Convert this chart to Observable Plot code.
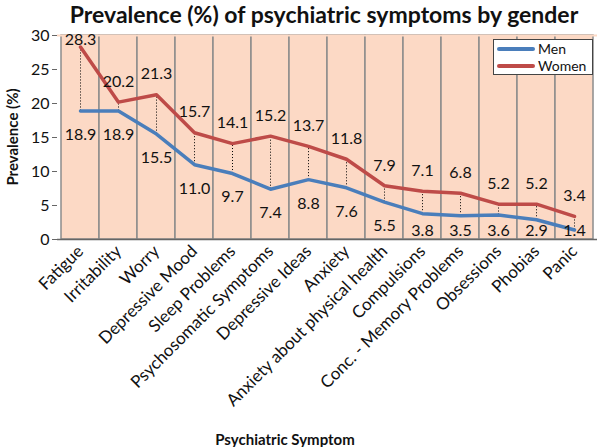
<!DOCTYPE html>
<html>
<head>
<meta charset="utf-8">
<script src="https://cdn.jsdelivr.net/npm/d3@7"></script>
<script src="https://cdn.jsdelivr.net/npm/@observablehq/plot@0.6"></script>
<style>
  html, body { margin: 0; padding: 0; background: #fff; }
  #wrap { position: relative; width: 600px; height: 447px; font-family: Lato, "Open Sans", sans-serif; color: #111; }
  #title { position: absolute; left: 0; top: 0; width: 600px; height: 28px; line-height: 28px; text-align: center; font-weight: bold; font-size: 23px; padding-left: 48px; box-sizing: border-box; white-space: nowrap; }
  #chart { padding-top: 24px; }
  #ylab { position: absolute; left: 12px; top: 137px; transform: translate(-50%, -50%) rotate(-90deg); font-weight: bold; font-size: 15px; white-space: nowrap; }
  #xlab { position: absolute; left: 285px; top: 439px; transform: translate(-50%, -50%); font-weight: bold; font-size: 15px; white-space: nowrap; }
  #legend { position: absolute; left: 493px; top: 39px; width: 100px; height: 36px; background: #fff; border: 1px solid #444; box-sizing: border-box; font-size: 14px; line-height: 16px; }
  .li { position: absolute; left: 3px; display: flex; align-items: center; height: 16px; }
  .sw { width: 38px; height: 4px; margin-right: 3px; border-radius: 2px; }
</style>
</head>
<body>
<div id="wrap">
  <div id="chart"></div>
  <div id="title">Prevalence (%) of psychiatric symptoms by gender</div>
  <div id="ylab">Prevalence (%)</div>
  <div id="xlab">Psychiatric Symptom</div>
  <div id="legend">
    <div class="li" style="top:1px"><div class="sw" style="background:#4a7ebb"></div>Men</div>
    <div class="li" style="top:18px"><div class="sw" style="background:#be4b48"></div>Women</div>
  </div>
</div>
<script>
const symptoms = ["Fatigue", "Irritability", "Worry", "Depressive Mood", "Sleep Problems",
  "Psychosomatic Symptoms", "Depressive Ideas", "Anxiety", "Anxiety about physical health",
  "Compulsions", "Conc. - Memory Problems", "Obsessions", "Phobias", "Panic"];
const men = [18.9, 18.9, 15.5, 11.0, 9.7, 7.4, 8.8, 7.6, 5.5, 3.8, 3.5, 3.6, 2.9, 1.4];
const women = [28.3, 20.2, 21.3, 15.7, 14.1, 15.2, 13.7, 11.8, 7.9, 7.1, 6.8, 5.2, 5.2, 3.4];
const yTicks = [0, 5, 10, 15, 20, 25, 30];

const rows = symptoms.map((s, i) => ({symptom: s, men: men[i], women: women[i]}));
const blue = "#4a7ebb", red = "#be4b48";

const chart = Plot.plot({
  width: 600,
  height: 423,
  marginLeft: 57,
  marginRight: 3,
  marginTop: 11,
  marginBottom: 208,
  style: {fontFamily: "Lato, 'Open Sans', sans-serif", fontSize: "15px", color: "#111", background: "transparent"},
  x: {type: "band", domain: symptoms, padding: 0, label: null},
  y: {domain: [0, 30], label: null},
  marks: [
    Plot.barY(symptoms, {x: d => d, y1: 0, y2: 30, fill: "#fcd9c5", stroke: "#8c8c8c", strokeWidth: 1.5}),
    Plot.ruleY([30], {stroke: "#fcd9c5", strokeWidth: 2}),
    Plot.ruleY([0], {stroke: "#666", strokeWidth: 1.5}),
    Plot.axisY({ticks: yTicks, tickSize: 5, tickPadding: 3, fontSize: 16, label: null, stroke: "#666"}),
    Plot.axisX({tickRotate: -45, tickSize: 0, tickPadding: 9, fontSize: 17, label: null}),
    Plot.ruleX(rows, {x: "symptom", y1: "men", y2: "women", stroke: "#000", strokeWidth: 1, strokeDasharray: "1,2"}),
    Plot.line(rows, {x: "symptom", y: "men", stroke: blue, strokeWidth: 3.5}),
    Plot.line(rows, {x: "symptom", y: "women", stroke: red, strokeWidth: 3.5}),
    Plot.text(rows, {x: "symptom", y: d => Math.min(d.women + 3, 29.3), text: d => d.women.toFixed(1), fontSize: 16, fill: "#111"}),
    Plot.text(rows, {x: "symptom", y: d => Math.max(d.men - 3.5, 1.3), text: d => d.men.toFixed(1), fontSize: 16, fill: "#111"})
  ]
});
document.getElementById("chart").appendChild(chart);
</script>
</body>
</html>
